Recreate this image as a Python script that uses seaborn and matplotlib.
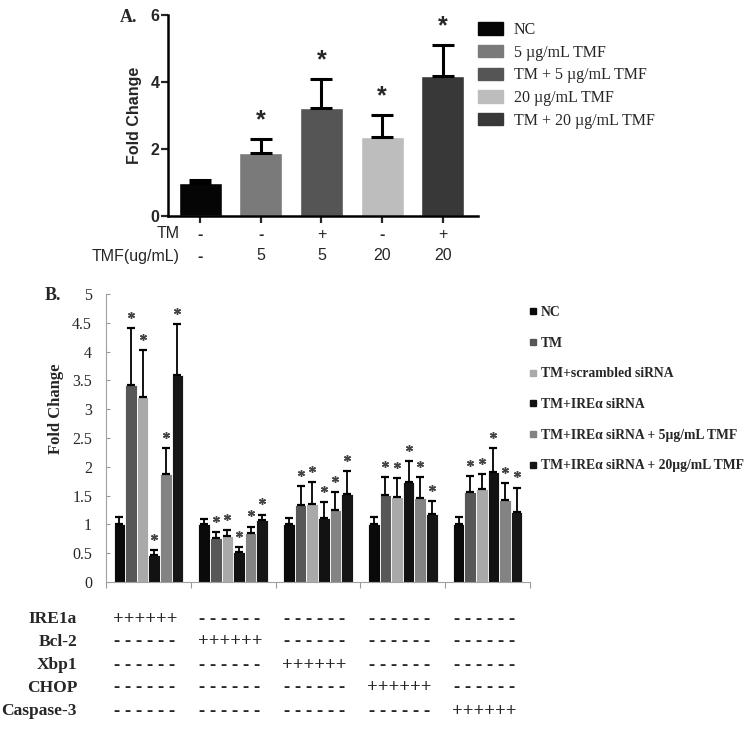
import numpy as np
import pandas as pd
import matplotlib
matplotlib.use("Agg")
import matplotlib.pyplot as plt
import matplotlib.transforms as mtransforms
from matplotlib.patches import Patch
from matplotlib.lines import Line2D
from matplotlib.container import BarContainer
import seaborn as sns

# ---- panel A data ----
a_groups = ["NC", "5 µg/mL TMF", "TM + 5 µg/mL TMF", "20 µg/mL TMF", "TM + 20 µg/mL TMF"]
a_mean = [1.0, 1.88, 3.22, 2.35, 4.18]
a_err = [0.08, 0.42, 0.88, 0.67, 0.92]
a_star = [False, True, True, True, True]
a_tm = ["-", "-", "+", "-", "+"]
a_tmf = ["-", "5", "5", "20", "20"]
a_colors = ["#050505", "#7a7a7a", "#555555", "#bdbdbd", "#383838"]

# ---- panel B data ----
genes = ["IRE1a", "Bcl-2", "Xbp1", "CHOP", "Caspase-3"]
treatments = ["NC", "TM", "TM+scrambled siRNA", "TM+IREα siRNA",
              "TM+IREα siRNA + 5µg/mL TMF", "TM+IREα siRNA + 20µg/mL TMF"]
b_colors = ["#0a0a0a", "#575757", "#a9a9a9", "#121212", "#838383", "#161616"]
ire1a_mean = [1.0, 3.42, 3.21, 0.47, 1.88, 3.60]
ire1a_err = [0.13, 0.99, 0.81, 0.08, 0.45, 0.88]
bcl2_mean = [1.0, 0.77, 0.80, 0.52, 0.85, 1.07]
bcl2_err = [0.10, 0.10, 0.10, 0.09, 0.11, 0.10]
xbp1_mean = [1.0, 1.33, 1.36, 1.11, 1.25, 1.53]
xbp1_err = [0.11, 0.34, 0.38, 0.28, 0.31, 0.40]
chop_mean = [1.0, 1.51, 1.47, 1.73, 1.45, 1.18]
chop_err = [0.13, 0.31, 0.33, 0.37, 0.37, 0.23]
casp3_mean = [1.0, 1.57, 1.62, 1.91, 1.42, 1.22]
casp3_err = [0.13, 0.27, 0.25, 0.41, 0.30, 0.42]
b_star = [False, True, True, True, True, True]

b_means = [ire1a_mean, bcl2_mean, xbp1_mean, chop_mean, casp3_mean]
b_errs = [ire1a_err, bcl2_err, xbp1_err, chop_err, casp3_err]
df_b = pd.DataFrame({
    "gene": [g for g in genes for _ in treatments],
    "treatment": [t for _ in genes for t in treatments],
    "value": [v for m in b_means for v in m],
})

sns.set_style("white")
plt.rcParams["font.family"] = ["Liberation Sans", "DejaVu Sans"]
SERIF = ["Liberation Serif", "DejaVu Serif"]

fig = plt.figure(figsize=(7.5, 7.29), dpi=100)

# ================= panel A =================
axA = fig.add_axes([168 / 750, 1 - 216 / 729, 310 / 750, 201 / 729])
sns.barplot(x=a_groups, y=a_mean, hue=a_groups, palette=a_colors, width=0.71,
            legend=False, ax=axA, saturation=1)
xs = np.arange(len(a_groups))
axA.errorbar(xs, a_mean, yerr=[np.zeros(len(a_err)), a_err], fmt="none",
             ecolor="black", elinewidth=2.2, capsize=8, capthick=2.2, zorder=3)
for x, m, e, s in zip(xs, a_mean, a_err, a_star):
    if s:
        axA.text(x, m + e + 0.55, "*", ha="center", va="center", fontsize=18,
                 fontweight="bold")
axA.set_xlim(-0.53, 4.58)
axA.set_ylim(0, 6)
axA.set_yticks([0, 2, 4, 6])
axA.set_xticks(xs)
axA.set_xticklabels([])
axA.tick_params(axis="y", direction="out", length=5, width=1.6, pad=1,
                labelsize=11.5, left=True)
axA.tick_params(axis="x", direction="out", length=5, width=1.6, bottom=True)
for lab in axA.get_yticklabels():
    lab.set_fontweight("bold")
for sp in ["top", "right"]:
    axA.spines[sp].set_visible(False)
for sp in ["left", "bottom"]:
    axA.spines[sp].set_linewidth(1.8)
    axA.spines[sp].set_color("black")
axA.set_ylabel("Fold Change", fontsize=11.5, fontweight="bold")
axA.yaxis.set_label_coords(-0.085, 0.5)
axA.set_xlabel("")

trA = mtransforms.blended_transform_factory(axA.transData, fig.transFigure)
for x, tm, tmf in zip(xs, a_tm, a_tmf):
    axA.text(x, 1 - 234 / 729, tm, transform=trA, ha="center", va="center",
             fontsize=11.5, fontweight="bold" if tm == "-" else "normal")
    axA.text(x, 1 - 256 / 729, tmf, transform=trA, ha="center", va="center",
             fontsize=11.5, fontweight="bold" if tmf == "-" else "normal")
fig.text(180 / 750, 1 - 234 / 729, "TM", ha="right", va="center", fontsize=11.5)
fig.text(180 / 750, 1 - 256 / 729, "TMF(ug/mL)", ha="right", va="center", fontsize=11.5)
fig.text(120 / 750, 1 - 18 / 729, "A.", ha="left", va="center", fontsize=13,
         fontweight="bold", family=SERIF)

handlesA = [Patch(facecolor=c, edgecolor=c) for c in a_colors]
fig.legend(handlesA, a_groups, loc="upper left", bbox_to_anchor=(478 / 750, 1 - 22 / 729),
           frameon=False, prop={"family": SERIF, "size": 11.5}, handlelength=1.55,
           handleheight=0.8, handletextpad=0.7, labelspacing=0.42, borderpad=0,
           borderaxespad=0)

# ================= panel B =================
axB = fig.add_axes([106 / 750, 1 - 582 / 729, 424 / 750, 288 / 729])
sns.barplot(data=df_b, x="gene", y="value", hue="treatment", order=genes,
            hue_order=treatments, palette=b_colors, width=0.82, errorbar=None,
            legend=False, ax=axB, saturation=1, edgecolor="white", linewidth=0.6)
bar_conts = [c for c in axB.containers if isinstance(c, BarContainer)]
for ti, cont in enumerate(bar_conts):
    for gi, bar in enumerate(cont.patches):
        bx = bar.get_x() + bar.get_width() / 2
        m = b_means[gi][ti]
        e = b_errs[gi][ti]
        axB.errorbar(bx, m, yerr=[[0], [e]], fmt="none", ecolor="black",
                     elinewidth=1.3, capsize=2.6, capthick=1.6, zorder=3)
        if b_star[ti]:
            axB.plot(bx, m + e + 0.23, marker=(6, 2, 0), markersize=5,
                     markeredgewidth=1.0, color="#444444", linestyle="none")
axB.set_xlim(-0.5, 4.5)
axB.set_ylim(0, 5)
yt = np.arange(0, 5.01, 0.5)
axB.set_yticks(yt)
axB.set_yticklabels([f"{v:g}" for v in yt], family=SERIF, fontsize=11.5)
axB.set_xticks(np.arange(-0.5, 4.6, 1))
axB.set_xticklabels([])
axB.tick_params(axis="y", direction="in", length=3, width=0.8, color="#999999",
                pad=10, left=True)
axB.tick_params(axis="x", direction="out", length=4, width=0.8, color="#999999",
                bottom=True)
for sp in ["top", "right"]:
    axB.spines[sp].set_visible(False)
for sp in ["left", "bottom"]:
    axB.spines[sp].set_linewidth(0.8)
    axB.spines[sp].set_color("#a0a0a0")
axB.set_xlabel("")
axB.set_ylabel("Fold Change", family=SERIF, fontweight="bold", fontsize=12)
axB.yaxis.set_label_coords(-0.1, 0.6)
fig.text(45 / 750, 1 - 295 / 729, "B.", ha="left", va="center", fontsize=13,
         fontweight="bold", family=SERIF)

handlesB = [Line2D([], [], marker="s", linestyle="none", markersize=5, color=c)
            for c in b_colors]
fig.legend(handlesB, treatments, loc="upper left", bbox_to_anchor=(529 / 750, 1 - 306 / 729),
           frameon=False, prop={"family": SERIF, "size": 9.8, "weight": "bold"},
           handlelength=0.6, handletextpad=0.25, labelspacing=1.3, borderpad=0,
           borderaxespad=0)

# table of constructs under panel B
trB = mtransforms.blended_transform_factory(axB.transData, fig.transFigure)
row_y = [619, 642, 665, 688, 711]
for r, (gene, yy) in enumerate(zip(genes, row_y)):
    fig.text(77 / 750, 1 - yy / 729, gene, ha="right", va="center", fontsize=12.5,
             fontweight="bold", family=SERIF)
    for g in range(len(genes)):
        if g == r:
            s = "+" * len(treatments)
        else:
            s = " ".join(["-"] * len(treatments))
        axB.text(g - 0.04, 1 - yy / 729, s, transform=trB, ha="center", va="center",
                 fontsize=13.5, fontweight="bold", family=SERIF)

fig.savefig("out.png", dpi=100)
